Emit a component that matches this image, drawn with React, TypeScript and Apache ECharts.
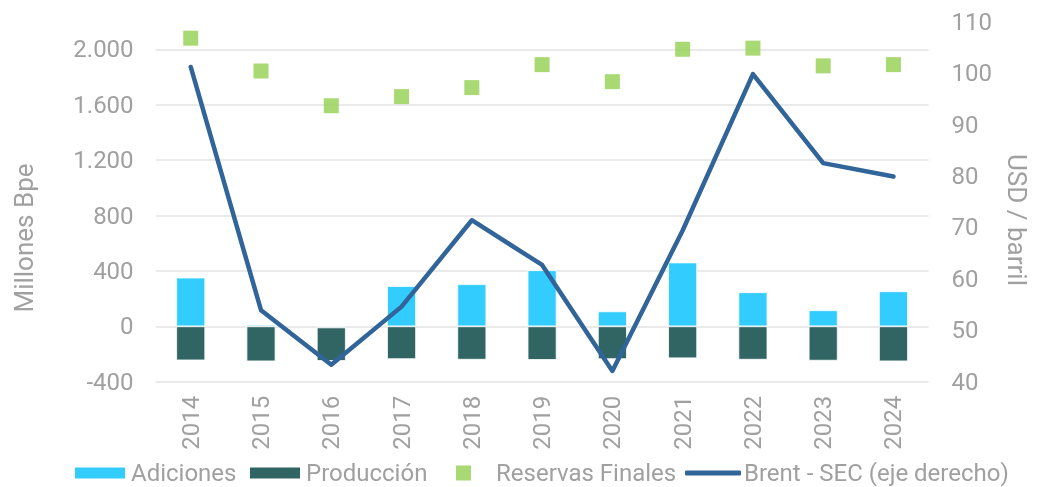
import React, { useEffect, useRef } from "react";
import * as echarts from "echarts";

const years = ["2014", "2015", "2016", "2017", "2018", "2019", "2020", "2021", "2022", "2023", "2024"];
const adiciones = [352, 12, -8, 291, 304, 405, 108, 461, 246, 116, 253];
const produccion = [-246, -253, -242, -237, -241, -243, -237, -231, -241, -248, -253];
const reservas = [2081, 1844, 1593, 1659, 1724, 1890, 1767, 2001, 2009, 1881, 1890];
const brent = [101.2, 53.9, 43.3, 54.6, 71.4, 62.7, 42.1, 69.4, 99.8, 82.5, 79.9];

const leftTicks = [-400, 2200];
const rightTicks = [40, 110];

const GRAY = "#a0a0a0";
const FONT = "Roboto";
const FS = 24;
const TFS = 26;

function fmtThousands(v: number): string {
  const s = Math.abs(v).toString().replace(/\B(?=(\d{3})+(?!\d))/g, ".");
  return (v < 0 ? "-" : "") + s;
}

export default function App() {
  const ref = useRef<HTMLDivElement>(null);
  useEffect(() => {
    if (!ref.current) return;
    document.body.style.margin = "0";
    const chart = echarts.init(ref.current, null, { renderer: "svg" });
    const legendText = { color: GRAY, fontFamily: FONT, fontSize: FS };
    const LT = 456;
    chart.setOption({
      animation: false,
      grid: { left: 155.6, right: 110.4, top: 21.7, bottom: 105.3, containLabel: false },
      legend: [
        {
          data: ["Adiciones"],
          left: 68,
          top: LT,
          itemWidth: 52,
          itemHeight: 13,
          icon: "rect",
          textStyle: legendText,
        },
        {
          data: ["Producción"],
          left: 243,
          top: LT,
          itemWidth: 52,
          itemHeight: 13,
          icon: "rect",
          textStyle: legendText,
        },
        {
          data: ["Reservas Finales"],
          left: 451,
          top: LT,
          itemWidth: 15,
          itemHeight: 15,
          icon: "rect",
          textStyle: { ...legendText, padding: [0, 0, 0, 20] },
        },
        {
          data: ["Brent - SEC (eje derecho)"],
          left: 680,
          top: LT,
          itemWidth: 56,
          itemHeight: 5,
          icon: "roundRect",
          textStyle: { ...legendText, padding: [0, 0, 0, -2] },
        },
      ],
      xAxis: {
        type: "category",
        data: years,
        axisLine: { show: false },
        axisTick: { show: false },
        axisLabel: {
          rotate: 90,
          color: GRAY,
          fontFamily: FONT,
          fontSize: FS,
          margin: 14,
        },
      },
      yAxis: [
        {
          type: "value",
          min: leftTicks[0],
          max: leftTicks[1],
          interval: 400,
          axisLine: { show: false },
          axisTick: { show: false },
          axisLabel: {
            color: GRAY,
            fontFamily: FONT,
            fontSize: FS,
            margin: 22,
            showMaxLabel: false,
            formatter: (v: number) => (v > 2000 ? "" : fmtThousands(v)),
          },
          splitLine: { show: true, showMaxLine: false, lineStyle: { color: "#e3e3e3", width: 1.5 } },
        },
        {
          type: "value",
          min: rightTicks[0],
          max: rightTicks[1],
          interval: 10,
          axisLine: { show: false },
          axisTick: { show: false },
          splitLine: { show: false },
          axisLabel: {
            color: GRAY,
            fontFamily: FONT,
            fontSize: FS,
            margin: 23,
          },
        },
      ],
      graphic: [
        {
          type: "text",
          x: 24,
          y: 238,
          rotation: Math.PI / 2,
          style: {
            text: "Millones Bpe",
            fill: GRAY,
            font: `${TFS}px ${FONT}`,
            align: "center",
            verticalAlign: "middle",
          },
        },
        {
          type: "text",
          x: 1017,
          y: 220,
          rotation: -Math.PI / 2,
          style: {
            text: "USD / barril",
            fill: GRAY,
            font: `${TFS}px ${FONT}`,
            align: "center",
            verticalAlign: "middle",
          },
        },
      ],
      series: [
        {
          name: "Adiciones",
          type: "bar",
          stack: "total",
          barWidth: 29,
          data: adiciones,
          itemStyle: { color: "#33CCFF", borderColor: "#ffffff", borderWidth: 0.8 },
          z: 2,
        },
        {
          name: "Producción",
          type: "bar",
          stack: "total",
          barWidth: 29,
          data: produccion,
          itemStyle: { color: "#306563", borderColor: "#ffffff", borderWidth: 0.8 },
          z: 2,
        },
        {
          name: "Reservas Finales",
          type: "scatter",
          symbol: "rect",
          symbolSize: 15,
          data: reservas,
          itemStyle: { color: "#92D050" },
          z: 3,
        },
        {
          name: "Brent - SEC (eje derecho)",
          type: "line",
          yAxisIndex: 1,
          data: brent,
          showSymbol: false,
          symbol: "none",
          lineStyle: { color: "#31659A", width: 4.5, cap: "round", join: "round" },
          itemStyle: { color: "#31659A" },
          z: 4,
        },
      ],
    });
    return () => chart.dispose();
  }, []);
  return <div ref={ref} style={{ width: 1039, height: 487, position: "fixed", left: 0, top: 0 }} />;
}
